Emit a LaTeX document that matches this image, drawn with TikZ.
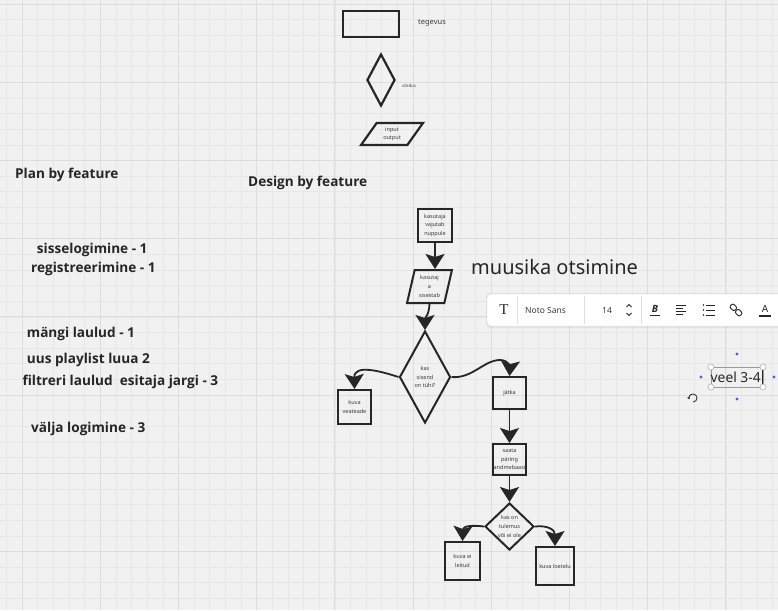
\documentclass[tikz,border=0pt]{standalone}
\usepackage{fontspec}
\setmainfont{Noto Sans}
\newfontfamily\serifT{Liberation Serif}
\newfontfamily\hfont{Open Sans}
\usetikzlibrary{shapes.geometric,arrows.meta}
\definecolor{bg}{HTML}{F1F1F1}
\definecolor{gridminor}{HTML}{E7E7E7}
\definecolor{gridmajor}{HTML}{DDDDDD}
\definecolor{ink}{HTML}{262626}
\definecolor{txt}{HTML}{3A3A3A}
\definecolor{selblue}{HTML}{7E97F0}
\definecolor{dotblue}{HTML}{3D63E0}
\tikzset{bighead/.tip={Stealth[inset=3pt,length=15pt,width=19pt]}}
\begin{document}
\begin{tikzpicture}[x=1pt,y=-1pt,
  shp/.style={draw=ink, line width=2pt, inner sep=0pt, align=center, text=txt,
    font=\fontsize{5.5}{8.6}\selectfont},
  boxs/.style={shp, rectangle},
  dia/.style={shp, diamond},
  para/.style={shp, trapezium, trapezium stretches=true},
  arr/.style={draw=ink, line width=1.8pt, -bighead},
  bigtxt/.style={text=ink, inner sep=0pt, anchor=west, font=\fontsize{13.6}{16}\hfont\bfseries},
  tool/.style={text=txt, inner sep=0pt, font=\fontsize{8.5}{10}\selectfont}
]
\useasboundingbox (0,0) rectangle (778,610);
\fill[bg] (0,0) rectangle (778,610);
% grid
\foreach \i in {0,...,50} {
  \pgfmathsetmacro{\xx}{6.36+15.64*\i}
  \draw[gridminor, line width=0.5pt] (\xx,0) -- (\xx,610);
}
\foreach \i in {0,...,39} {
  \pgfmathsetmacro{\yy}{4+15.64*\i}
  \draw[gridminor, line width=0.5pt] (0,\yy) -- (778,\yy);
}
\foreach \i in {0,...,9} {
  \pgfmathsetmacro{\xx}{22+78.2*\i}
  \draw[gridmajor, line width=0.7pt] (\xx,0) -- (\xx,610);
}
\foreach \i in {0,...,7} {
  \pgfmathsetmacro{\yy}{4+78.2*\i}
  \draw[gridmajor, line width=0.7pt] (0,\yy) -- (778,\yy);
}

% legend
\node[boxs, minimum width=56, minimum height=26, line width=2.6pt] (leg1) at (371,24) {};
\node[text=txt, inner sep=0pt, font=\fontsize{7.5}{9}\selectfont] (legt1) at (432,23) {tegevus};
\node[dia, minimum width=28, minimum height=52, line width=2.2pt] (leg2) at (381,80) {};
\node[text=txt, inner sep=0pt, font=\fontsize{4.3}{5}\selectfont] (legt2) at (409,85.5) {võrdus};
\node[para, minimum width=62, minimum height=22, line width=2.2pt, trapezium left angle=57.5, trapezium right angle=122.5] (leg3) at (392,134) {input\\output};

% headings and list
\node[bigtxt] (plan) at (15,175) {Plan by feature};
\node[bigtxt] (design) at (248,183.3) {Design by feature};
\node[bigtxt] (l1) at (36.7,250) {sisselogimine - 1};
\node[bigtxt] (l2) at (31,269) {registreerimine - 1};
\node[bigtxt] (l3) at (26.7,334.3) {mängi laulud - 1};
\node[bigtxt] (l4) at (26.7,360) {uus playlist luua 2};
\node[bigtxt] (l5) at (22.3,381.7) {filtreri laulud\ \ esitaja jargi - 3};
\node[bigtxt] (l6) at (31,429.3) {välja logimine - 3};

\node[text=ink, inner sep=0pt, anchor=west, font=\fontsize{20}{24}\selectfont] (muus) at (471,267) {muusika otsimine};

% flowchart
\node[boxs, minimum width=34, minimum height=33] (b1) at (435,225.5) {kasutaja\\vajutab\\nuppule};
\node[para, minimum width=45, minimum height=33, trapezium left angle=76, trapezium right angle=104] (p2) at (429.5,286.5) {kasutaj\\a\\sisestab};
\node[dia, minimum width=51, minimum height=92] (d1) at (425,377) {kas\\sisend\\on tühi?};
\node[boxs, minimum width=33, minimum height=34] (vea) at (354.5,407) {kuva\\veateade};
\node[boxs, minimum width=33, minimum height=32] (jatka) at (509.5,393) {jätka};
\node[boxs, minimum width=33, minimum height=31] (saata) at (509.5,459.5) {saata\\päring\\andmebaasi};
\node[dia, minimum width=49, minimum height=47] (sd) at (509.5,526.5) {kas on\\tulemus\\või ei ole};
\node[boxs, minimum width=35, minimum height=38] (leitud) at (462.5,561) {kuva ei\\leitud};
\node[boxs, minimum width=38, minimum height=38] (loetelu) at (555,566) {kuva loetelu};

\draw[arr] (b1.south) -- (b1.south |- p2.north);
\draw[arr] (p2.south) .. controls (429,315) and (425,318) .. (d1.north);
\draw[arr] (d1.west) .. controls (380,371) and (354,364) .. (vea.north);
\draw[arr] (d1.east) .. controls (472,379) and (484,360) .. (500,360) .. controls (509,360) and (510,368) .. (jatka.north);
\draw[arr] (jatka.south) -- (saata.north);
\draw[arr] (saata.south) -- (sd.north);
\draw[arr] (sd.west) .. controls (472,525) and (463,526) .. (leitud.north);
\draw[arr] (sd.east) .. controls (548,525) and (555,530) .. (loetelu.north);

% toolbar
\fill[black, opacity=0.06, rounded corners=4] (486,293) rectangle (792,328);
\draw[draw=gray!25, fill=white, rounded corners=4] (487,294) rectangle (790,326);
\draw[gray!25] (517,296) -- (517,324);
\draw[gray!25] (584,296) -- (584,324);
\draw[gray!25] (641,296) -- (641,324);
\node[text=ink, inner sep=0pt, font=\fontsize{15}{16}\serifT] (tT) at (504,310) {T};
\node[tool, anchor=west] (tfont) at (525,310) {Noto Sans};
\node[tool] (tsize) at (607,310) {14};
\draw[ink, line width=0.8pt] (626.5,307) -- (629,304.5) -- (631.5,307);
\draw[ink, line width=0.8pt] (626.5,313) -- (629,315.5) -- (631.5,313);
\node[text=ink, inner sep=0pt, font=\fontsize{10}{11}\hfont\bfseries\itshape] (tB) at (655,308.5) {B};
\draw[ink, line width=0.9pt] (650,315.5) -- (660,315.5);
\foreach \yy/\ll in {305/10,308/7,311/10,314/7} { \draw[ink, line width=0.9pt] (676,\yy) -- ++(\ll,0); }
\foreach \yy in {305,310,315} {
  \fill[ink] (703.5,\yy) circle (0.8);
  \draw[ink, line width=0.9pt] (706,\yy) -- (715,\yy);
}
\begin{scope}[shift={(736,310)}, rotate=45]
  \draw[ink, line width=0.9pt, rounded corners=2] (-2.5,-7) rectangle (2.5,-0.5);
  \draw[ink, line width=0.9pt, rounded corners=2] (-2.5,0.5) rectangle (2.5,7);
\end{scope}
\node[text=ink, inner sep=0pt, font=\fontsize{10}{11}\selectfont] (tA) at (765,308.5) {A};
\draw[ink, line width=1.1pt] (759,316) -- (771,316);

% selected text
\draw[selblue, line width=0.8pt] (711,367) rectangle (763,387);
\node[text=ink, inner sep=0pt, anchor=west, font=\fontsize{13.8}{16}\selectfont] (veel) at (710.5,377) {veel 3-4};
\draw[ink, line width=0.6pt] (762,369) -- (762,385);
\foreach \px/\py in {711/367,763/367,711/387,763/387} {
  \draw[gray!60, fill=white, line width=0.6pt] (\px,\py) circle (3);
}
\foreach \px/\py in {737/354,737/399,701/377,774/377} {
  \fill[dotblue] (\px,\py) circle (1.6);
}
\draw[ink, line width=0.8pt, -{Stealth[length=2.5pt,width=3pt]}] (693,402) arc[start angle=90, end angle=-200, radius=4];
\end{tikzpicture}
\end{document}
